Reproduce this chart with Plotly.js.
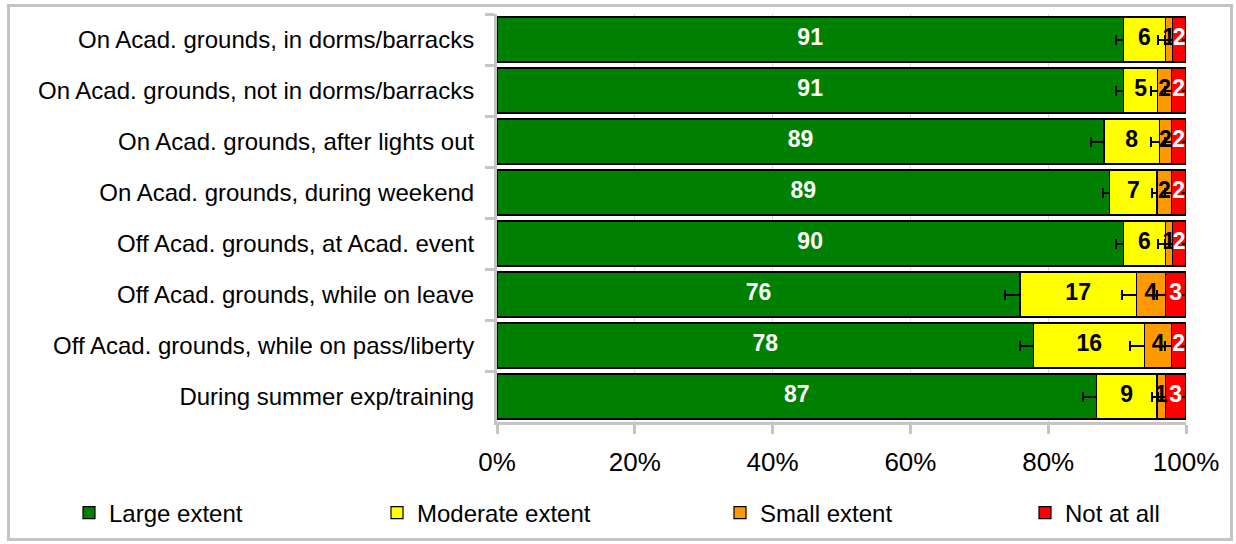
<!DOCTYPE html>
<html>
<head>
<meta charset="utf-8">
<script src="https://cdn.plot.ly/plotly-3.0.1.min.js"></script>
<style>
  html, body { margin: 0; padding: 0; background: #ffffff; }
  #wrap { position: relative; width: 1236px; height: 544px; }
  #chart { position: absolute; left: 0; top: 0; width: 1236px; height: 544px; }
  #frame { position: absolute; left: 7px; top: 4px; width: 1220px; height: 531px;
           border: 3px solid #c4c4c4; pointer-events: none; }
</style>
</head>
<body>
<div id="wrap">
  <div id="chart"></div>
  <div id="frame"></div>
</div>
<script>
// ---- data ----
var categories = [
  "On Acad. grounds, in dorms/barracks",
  "On Acad. grounds, not in dorms/barracks",
  "On Acad. grounds, after lights out",
  "On Acad. grounds, during weekend",
  "Off Acad. grounds, at Acad. event",
  "Off Acad. grounds, while on leave",
  "Off Acad. grounds, while on pass/liberty",
  "During summer exp/training"
];
var seriesNames = ["Large extent", "Moderate extent", "Small extent", "Not at all"];

var largeVals    = [90.9, 90.9, 88.1, 88.9, 90.9, 75.9, 77.9, 87.0];
var moderateVals = [6.1, 5.0, 8.0, 6.9, 6.1, 16.9, 16.1, 8.8];
var smallVals    = [1.0, 2.0, 1.8, 2.1, 1.0, 4.2, 3.9, 1.2];
var notAtAllVals = [2.0, 2.1, 2.1, 2.1, 2.0, 3.0, 2.1, 3.0];

var largeLabels    = ["91", "91", "89", "89", "90", "76", "78", "87"];
var moderateLabels = ["6", "5", "8", "7", "6", "17", "16", "9"];
var smallLabels    = ["1", "2", "2", "2", "1", "4", "4", "1"];
var notAtAllLabels = ["2", "2", "2", "2", "2", "3", "2", "3"];

var largeErr    = [1.0, 1.0, 1.9, 1.0, 1.0, 2.1, 2.0, 2.0];
var moderateErr = [1.1, 1.0, 1.2, 0.8, 1.1, 2.1, 2.1, 0.8];
var smallErr    = [1.0, 1.0, 1.0, 1.0, 1.0, 1.2, 0.9, 1.0];
var notAtAllErr = [0.6, 0.6, 0.6, 0.6, 0.6, 0.6, 0.6, 0.6];

var tickVals   = [0, 20, 40, 60, 80, 100];
var tickLabels = ["0%", "20%", "40%", "60%", "80%", "100%"];

// ---- styling ----
var colors    = ["#008000", "#ffff00", "#ff9900", "#ff0000"];
var txtColors = ["#ffffff", "#000000", "#000000", "#ffffff"];
var FONT = "Liberation Sans, Arial, sans-serif";

var allVals   = [largeVals, moderateVals, smallVals, notAtAllVals];
var allLabels = [largeLabels, moderateLabels, smallLabels, notAtAllLabels];
var allErrs   = [largeErr, moderateErr, smallErr, notAtAllErr];
var legendIds = ["legend", "legend2", "legend3", "legend4"];
var capWidths = [5, 5, 5, 0];

var data = [];
for (var i = 0; i < 4; i++) {
  data.push({
    type: "bar",
    orientation: "h",
    name: seriesNames[i],
    y: categories,
    x: allVals[i],
    textposition: "none",
    marker: { color: colors[i], line: { color: "#000000", width: 1.2 } },
    error_x: { type: "data", array: allErrs[i], symmetric: true, visible: true,
               color: "#000000", thickness: 2, width: capWidths[i] },
    cliponaxis: false,
    legend: legendIds[i],
    hoverinfo: "x+name"
  });
}

// value labels: placed at the middle of each stacked segment (data coordinates)
var cum = categories.map(function () { return 0; });
for (var s = 0; s < 4; s++) {
  var mids = [];
  for (var k = 0; k < categories.length; k++) {
    mids.push(cum[k] + allVals[s][k] / 2);
    cum[k] += allVals[s][k];
  }
  data.push({
    type: "scatter",
    mode: "text",
    y: categories,
    x: mids,
    text: allLabels[s],
    textposition: "middle center",
    textfont: { family: FONT, size: 23, color: txtColors[s], weight: "bold" },
    showlegend: false,
    cliponaxis: false,
    hoverinfo: "skip"
  });
}

function legendAt(px) {
  return {
    x: px / 1236, xref: "container", xanchor: "left",
    y: 1 - 513 / 544, yref: "container", yanchor: "middle",
    orientation: "h",
    bgcolor: "rgba(0,0,0,0)",
    font: { family: FONT, size: 24, color: "#000000" },
    itemclick: false, itemdoubleclick: false
  };
}

var layout = {
  width: 1236,
  height: 544,
  margin: { l: 497, r: 50, t: 14, b: 122, pad: 0 },
  paper_bgcolor: "#ffffff",
  plot_bgcolor: "#ffffff",
  barmode: "stack",
  bargap: 0.12,
  showlegend: true,
  font: { family: FONT, size: 24, color: "#000000" },
  xaxis: {
    range: [0, 100],
    tickmode: "array",
    tickvals: tickVals,
    ticktext: tickLabels,
    showgrid: true,
    gridcolor: "#d9d9d9",
    gridwidth: 1,
    zeroline: false,
    showline: true,
    linecolor: "#c4c4c4",
    linewidth: 3,
    ticks: "outside",
    ticklen: 9,
    tickwidth: 3,
    tickcolor: "#c4c4c4",
    ticklabelstandoff: 6,
    tickfont: { family: FONT, size: 26, color: "#000000" },
    fixedrange: true
  },
  yaxis: {
    type: "category",
    autorange: "reversed",
    showgrid: false,
    zeroline: false,
    showline: true,
    linecolor: "#c4c4c4",
    linewidth: 3,
    ticks: "outside",
    tickson: "boundaries",
    ticklen: 9,
    tickwidth: 3,
    tickcolor: "#c4c4c4",
    ticklabelstandoff: 15,
    tickfont: { family: FONT, size: 24, color: "#000000" },
    fixedrange: true
  },
  legend: legendAt(69),
  legend2: legendAt(377),
  legend3: legendAt(720),
  legend4: legendAt(1025)
};

Plotly.newPlot("chart", data, layout, { displayModeBar: false, staticPlot: true });
</script>
</body>
</html>
